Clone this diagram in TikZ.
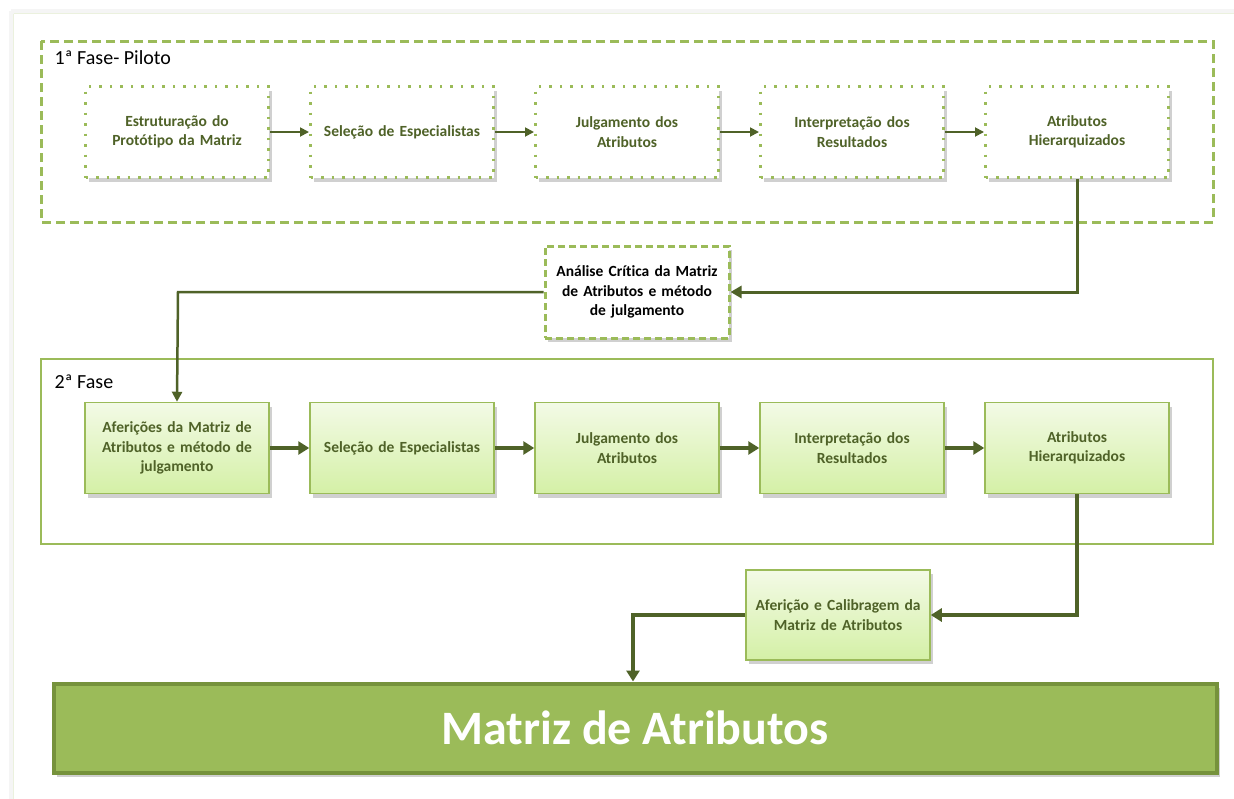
\documentclass[tikz,border=0pt]{standalone}
\usepackage{fontspec}
\setmainfont[Ligatures={NoCommon}]{Carlito}
\usetikzlibrary{shadows,arrows.meta,calc}
\definecolor{lgreen}{HTML}{9BBB59}
\definecolor{dgreen}{HTML}{4F6228}
\definecolor{mgreen}{HTML}{76923C}
\definecolor{topfill}{HTML}{F3FAE6}
\definecolor{botfill}{HTML}{D4F0A6}
\tikzset{
  x=1pt,y=-1pt,
  shadowed/.style={drop shadow={shadow xshift=3pt,shadow yshift=-4pt,opacity=0.3,fill=black!60}},
  pbox/.style={shadowed,draw=lgreen,line width=3pt,dash pattern=on 2.5pt off 8pt,fill=white,
    minimum width=183pt,minimum height=91pt,inner sep=0pt,align=center,
    font=\fontsize{15.5}{19.5}\selectfont\bfseries,text=dgreen,text width=176pt},
  sbox/.style={shadowed,draw=lgreen,line width=1.5pt,top color=topfill,bottom color=botfill,
    minimum width=184pt,minimum height=91pt,inner sep=0pt,align=center,
    font=\fontsize{15.5}{19.5}\selectfont\bfseries,text=dgreen,text width=176pt},
  thinarr/.style={draw=dgreen,line width=1.8pt,-{Triangle[length=9pt,width=9pt]}},
  thickarr/.style={draw=dgreen,line width=4.5pt,-{Triangle[length=11pt,width=13pt]}},
  midarr/.style={draw=dgreen,line width=3pt,-{Triangle[length=11pt,width=12pt]}},
}
\begin{document}
\begin{tikzpicture}
\useasboundingbox (0,0) rectangle (1234,798);
\fill[white] (0,0) rectangle (1234,798);
% page frame
\draw[draw=black!4,line width=5pt] (11,11) -- (1240,11);
\draw[draw=black!4,line width=5pt] (11,11) -- (11,800);
\draw[draw=lgreen!20,line width=1pt] (13.5,13.5) -- (1240,13.5);
\draw[draw=lgreen!20,line width=1pt] (13.5,13.5) -- (13.5,800);

% phase 1 frame
\draw[lgreen,line width=3pt,dash pattern=on 9pt off 5pt] (41,41) rectangle (1213,222);
\node[anchor=west,font=\fontsize{20}{24}\selectfont] (l1) at (51,58) {1ª Fase- Piloto};

\node[pbox] (a1) at (177,132) {Estruturação do\\Protótipo da Matriz};
\node[pbox] (a2) at (402,132) {Seleção de Especialistas};
\node[pbox] (a3) at (627,132) {Julgamento dos\\Atributos};
\node[pbox] (a4) at (852,132) {Interpretação dos\\Resultados};
\node[pbox] (a5) at (1077,132) {Atributos\\Hierarquizados};
\draw[thinarr] (a1) -- (a2);
\draw[thinarr] (a2) -- (a3);
\draw[thinarr] (a3) -- (a4);
\draw[thinarr] (a4) -- (a5);

% critical analysis
\node[shadowed,draw=lgreen,line width=3pt,dash pattern=on 7pt off 4pt,fill=white,
  minimum width=184pt,minimum height=92pt,inner sep=0pt,align=center,
  font=\fontsize{15.5}{19.5}\selectfont\bfseries,text=black,text width=180pt]
  (c) at (637,292) {Análise Crítica da Matriz\\de Atributos e método\\de julgamento};
\draw[midarr] (a5.south) |- (c.east);

% phase 2 frame
\draw[lgreen,line width=2.5pt] (41,359) rectangle (1213,544);
\node[anchor=west,font=\fontsize{20}{24}\selectfont] (l2) at (51,382) {2ª Fase};

\node[sbox] (b1) at (177,448) {Aferições da Matriz de\\Atributos e método de\\julgamento};
\node[sbox] (b2) at (402,448) {Seleção de Especialistas};
\node[sbox] (b3) at (627,448) {Julgamento dos\\Atributos};
\node[sbox] (b4) at (852,448) {Interpretação dos\\Resultados};
\node[sbox] (b5) at (1077,448) {Atributos\\Hierarquizados};
\coordinate (cl) at (178,292);
\draw[draw=dgreen,line width=2.5pt,-{Triangle[length=10pt,width=10pt]}] (c.west) -- (cl) -- (b1.north);
\draw[thickarr] (b1) -- (b2);
\draw[thickarr] (b2) -- (b3);
\draw[thickarr] (b3) -- (b4);
\draw[thickarr] (b4) -- (b5);

% calibration
\node[sbox,minimum width=184pt,minimum height=90pt] (d) at (838,615) {Aferição e Calibragem da\\Matriz de Atributos};
\draw[thickarr] (b5.south) |- (d.east);

% final
\node[shadowed,draw=mgreen,line width=4pt,fill=lgreen,minimum width=1163pt,minimum height=89pt,
  inner sep=0pt,font=\fontsize{48}{52}\selectfont\bfseries,text=white] (m) at (635,728) {Matriz de Atributos};
\coordinate (dl) at (633,615);
\draw[thickarr] (d.west) -- (dl) -- (dl |- m.north);
\end{tikzpicture}
\end{document}
